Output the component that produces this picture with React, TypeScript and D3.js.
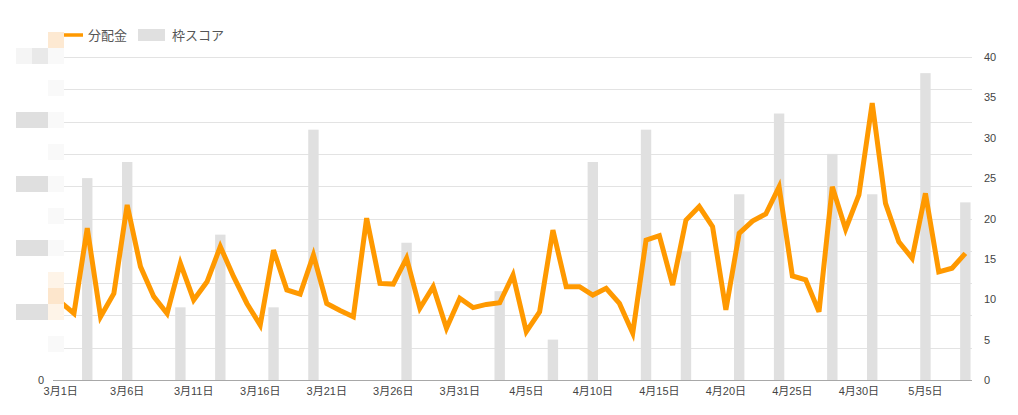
import React from "react";
import * as d3 from "d3";

// ---- data ----
const startDate = new Date(2024, 2, 1); // 3月1日
const dayCount = 69; // 3/1 .. 5/8

// 分配金 (left axis, units unknown – labels are masked in the reference)
const distribution = [
  24.1, 20.6, 47.0, 19.6, 26.8, 54.2, 35.1, 25.8, 20.6, 36.1,
  24.8, 30.4, 41.3, 32.0, 23.7, 17.0, 40.2, 27.9, 26.6, 38.7,
  23.7, 21.5, 19.6, 50.1, 29.9, 29.7, 37.7, 22.2, 28.9, 16.0,
  25.3, 22.4, 23.4, 23.9, 32.5, 15.0, 21.1, 46.4, 28.9, 28.9,
  26.3, 28.4, 23.7, 14.5, 43.3, 44.7, 29.4, 49.5, 53.7, 47.5,
  21.7, 45.4, 49.2, 51.4, 59.8, 32.2, 31.0, 21.1, 59.8, 46.7,
  57.3, 85.7, 54.7, 42.8, 37.7, 57.8, 33.5, 34.6, 39.2,
];

// 枠スコア bars: day index -> score
const scoreDays = [2, 5, 9, 12, 16, 19, 26, 33, 37, 40, 44, 47, 51, 54, 58, 61, 65, 68];
const scoreValues = [25, 27, 9, 18, 9, 31, 17, 11, 5, 27, 31, 16, 23, 33, 28, 23, 38, 22];

const leftTicks = [0, 10, 20, 30, 40, 50, 60, 70, 80, 90, 100];
const rightTicks = [0, 5, 10, 15, 20, 25, 30, 35, 40];
const xTickDays = [0, 5, 10, 15, 20, 25, 30, 35, 40, 45, 50, 55, 60, 65];

const seriesNames = ["分配金", "枠スコア"];
const colors = { line: "#ff9900", bar: "#e0e0e0" };

const W = 1018;
const H = 415;
const plot = { left: 54, right: 972, top: 57, bottom: 380 };
const font = "Arial, 'Liberation Sans', 'Noto Sans CJK JP', sans-serif";

function label(d: number) {
  const dt = d3.timeDay.offset(startDate, d);
  return `${dt.getMonth() + 1}月${dt.getDate()}日`;
}

export default function App() {
  const x = d3.scaleLinear().domain([-0.5, dayCount - 0.5]).range([plot.left, plot.right]);
  const yL = d3.scaleLinear().domain([0, 100]).range([plot.bottom, plot.top]);
  const yR = d3.scaleLinear().domain([0, 40]).range([plot.bottom, plot.top]);
  const barW = 10.4;

  const line = d3
    .line<number>()
    .x((_, i) => x(i))
    .y((v) => yL(v));

  // mosaic rows (masked left-axis labels)
  const mosaicRows = leftTicks
    .filter((t) => t > 0)
    .map((t) => ({ t, by: Math.floor(yL(t) / 16) * 16 }));

  return (
    <svg
      width={W}
      height={H}
      style={{ display: "block", position: "absolute", left: 0, top: 0, fontFamily: font }}
    >
      <rect width={W} height={H} fill="#fff" />
      {/* gridlines */}
      {leftTicks.map((t) => (
        <line
          key={t}
          x1={plot.left - 1}
          x2={plot.right}
          y1={Math.round(yL(t)) + 0.5}
          y2={Math.round(yL(t)) + 0.5}
          stroke="#e3e3e3"
        />
      ))}
      {/* bars */}
      {scoreDays.map((d, i) => (
        <rect
          key={d}
          x={x(d) - barW / 2}
          y={yR(scoreValues[i])}
          width={barW}
          height={plot.bottom - yR(scoreValues[i])}
          fill={colors.bar}
        />
      ))}
      {/* baseline */}
      <line x1={plot.left - 1} x2={plot.right} y1={380.5} y2={380.5} stroke="#a8a8a8" />
      {/* line */}
      <path d={line(distribution) || ""} fill="none" stroke={colors.line} strokeWidth={5} />

      {/* x-axis labels */}
      {xTickDays.map((d) => (
        <text key={d} x={x(d)} y={395} textAnchor="middle" fontSize={11} fill="#444">
          {label(d)}
        </text>
      ))}
      {/* right axis */}
      {rightTicks.map((t) => (
        <text key={t} x={984} y={yR(t) + 4} fontSize={11} fill="#444">
          {t}
        </text>
      ))}
      {/* left 0 */}
      <text x={44} y={384} textAnchor="end" fontSize={11} fill="#444">
        {leftTicks[0]}
      </text>

      {/* legend */}
      <line x1={64} x2={83} y1={35} y2={35} stroke={colors.line} strokeWidth={3.5} />
      <text x={88} y={40} fontSize={13} fill="#555">
        {seriesNames[0]}
      </text>
      <rect x={138} y={29} width={27} height={12} fill={colors.bar} />
      <text x={172} y={40} fontSize={13} fill="#555">
        {seriesNames[1]}
      </text>

      {/* mosaic over left axis labels */}
      <rect x={0} y={32} width={64} height={304} fill="#fff" />
      <rect x={48} y={32} width={16} height={16} fill="#fde9d2" />
      {mosaicRows.map(({ t, by }) => (
        <g key={t}>
          <rect x={48} y={by} width={16} height={16} fill="#f9f9f9" />
          {t === 100 && (
            <>
              <rect x={16} y={by} width={16} height={16} fill="#f5f5f5" />
              <rect x={32} y={by} width={16} height={16} fill="#e9e9e9" />
            </>
          )}
          {t % 20 === 0 && t !== 100 && (
            <rect x={16} y={by} width={32} height={16} fill="#dfdfdf" />
          )}
        </g>
      ))}
      {(() => {
        const by = Math.floor(yL(distribution[0]) / 16) * 16;
        return (
          <>
            <rect x={48} y={by - 16} width={16} height={16} fill="#fef4e8" />
            <rect x={48} y={by} width={16} height={16} fill="#fde6cc" />
            <rect x={48} y={by + 16} width={16} height={16} fill="#fef4e8" />
          </>
        );
      })()}
    </svg>
  );
}
